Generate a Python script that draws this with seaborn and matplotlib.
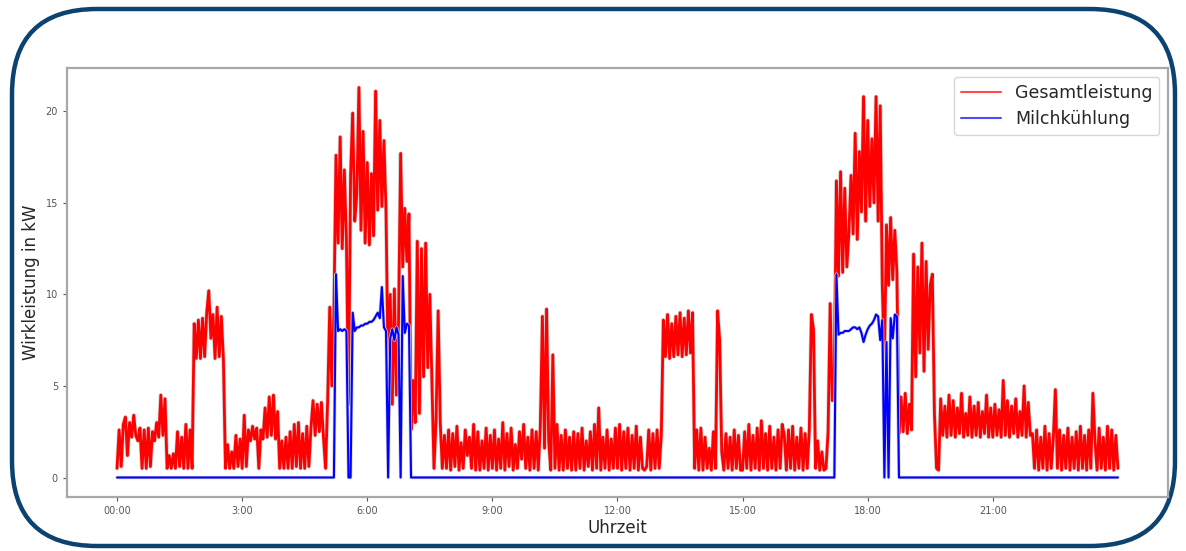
import matplotlib.pyplot as plt
import matplotlib.patheffects as pe
from matplotlib.patches import FancyBboxPatch
import seaborn as sns
import pandas as pd
import numpy as np

# Gesamtleistung in kW, 3-Minuten-Werte (20 Werte je Stunde)
h00 = [0.5, 2.6, 0.6, 2.9, 3.3, 1.2, 3.0, 2.2, 3.4, 2.3, 2.0, 2.7, 0.5, 2.6, 0.5, 2.7, 0.6, 2.5, 2.0, 3.0]
h01 = [2.2, 4.5, 2.3, 4.3, 0.5, 1.2, 0.5, 1.3, 0.5, 2.5, 0.6, 2.2, 0.5, 2.9, 0.5, 2.6, 0.5, 8.4, 6.5, 8.6]
h02 = [6.5, 8.7, 6.6, 9.0, 10.2, 7.6, 8.9, 6.5, 9.3, 6.6, 8.8, 6.5, 0.5, 1.8, 0.5, 1.4, 0.5, 2.3, 0.6, 2.1]
h03 = [0.5, 3.4, 0.6, 2.6, 2.0, 2.8, 2.1, 2.7, 0.5, 2.6, 2.1, 3.8, 2.2, 4.4, 2.3, 4.5, 2.1, 3.6, 0.5, 2.0]
h04 = [0.5, 2.2, 0.5, 2.5, 0.5, 2.9, 0.6, 3.0, 0.5, 2.4, 0.5, 2.8, 0.6, 2.7, 4.2, 2.3, 4.0, 2.5, 4.1, 2.2]
h05 = [0.5, 4.2, 9.3, 5.0, 9.0, 17.6, 12.8, 18.6, 12.5, 16.8, 13.0, 4.0, 16.5, 19.9, 14.0, 15.5, 21.3, 13.5, 18.9, 12.8]
h06 = [17.2, 12.7, 16.6, 13.2, 21.1, 14.6, 19.5, 14.8, 18.4, 14.5, 5.8, 10.0, 4.0, 10.3, 4.5, 8.5, 17.7, 11.5, 14.7, 11.8]
h07 = [14.4, 2.6, 5.3, 3.0, 12.9, 3.5, 12.5, 5.5, 12.8, 6.0, 10.0, 5.2, 0.5, 3.2, 9.1, 3.0, 0.5, 2.3, 0.5, 2.6]
h08 = [0.4, 2.4, 0.6, 2.8, 0.4, 1.9, 0.5, 2.6, 1.2, 2.2, 0.5, 2.9, 0.4, 2.5, 0.4, 2.0, 0.5, 2.7, 0.4, 2.3]
h09 = [0.5, 2.6, 0.4, 2.1, 0.5, 3.0, 0.4, 2.4, 0.6, 2.7, 0.4, 1.8, 0.5, 2.5, 1.0, 2.9, 0.5, 2.2, 0.4, 2.6]
h10 = [0.5, 2.5, 0.4, 2.8, 8.8, 1.6, 9.2, 2.0, 0.4, 6.7, 0.5, 2.9, 0.4, 2.3, 0.4, 2.6, 0.5, 2.2, 0.4, 2.5]
h11 = [0.4, 2.4, 0.5, 2.7, 0.4, 2.0, 0.6, 2.5, 0.4, 2.9, 0.5, 3.8, 0.4, 2.2, 0.5, 2.6, 0.4, 2.1, 0.5, 2.7]
h12 = [0.5, 2.9, 0.4, 2.5, 0.5, 2.7, 0.4, 2.3, 0.5, 2.8, 0.4, 2.2, 0.5, 0.4, 0.6, 2.6, 0.4, 2.4, 0.5, 2.6]
h13 = [0.5, 2.3, 8.6, 6.6, 8.9, 6.5, 8.4, 6.6, 8.8, 6.7, 9.0, 6.6, 8.7, 6.7, 9.1, 6.8, 9.0, 0.5, 2.6, 0.4]
h14 = [2.7, 0.4, 2.2, 0.5, 1.6, 0.4, 2.5, 0.5, 9.1, 7.5, 1.4, 0.4, 2.4, 0.5, 2.2, 0.4, 2.6, 0.5, 2.3, 0.4]
h15 = [0.4, 2.5, 0.5, 2.9, 0.4, 2.3, 0.5, 2.7, 0.4, 3.1, 0.5, 2.4, 0.4, 2.8, 0.5, 2.2, 0.4, 2.6, 0.5, 2.9]
h16 = [2.3, 0.4, 2.6, 0.5, 2.8, 0.4, 2.2, 0.5, 2.7, 0.4, 2.4, 0.5, 2.6, 8.9, 8.1, 0.5, 2.0, 0.4, 1.4, 0.4]
h17 = [0.5, 2.5, 9.5, 4.2, 5.6, 16.2, 11.0, 16.7, 11.2, 15.8, 11.5, 13.4, 16.5, 13.3, 18.8, 13.0, 17.8, 14.5, 20.8, 14.0]
h18 = [19.5, 14.8, 18.5, 15.0, 20.8, 14.0, 20.3, 10.5, 6.2, 13.8, 10.5, 14.2, 10.8, 13.5, 11.2, 2.4, 4.4, 2.5, 4.6, 2.4]
h19 = [4.0, 2.6, 12.2, 5.5, 11.5, 6.8, 12.8, 5.8, 11.8, 7.0, 10.5, 11.1, 3.5, 0.5, 0.4, 4.3, 2.3, 3.9, 2.2, 4.5]
h20 = [2.3, 4.2, 2.2, 3.8, 2.4, 4.6, 2.2, 3.5, 2.3, 4.4, 2.2, 3.9, 2.3, 4.1, 2.2, 3.6, 2.4, 4.5, 2.2, 3.8]
h21 = [2.2, 4.0, 2.3, 3.7, 2.2, 5.3, 2.3, 4.2, 2.2, 3.9, 2.4, 4.3, 2.2, 3.6, 2.3, 5.0, 2.2, 4.1, 2.3, 2.4]
h22 = [0.5, 2.6, 0.4, 2.2, 0.5, 2.8, 0.4, 2.4, 0.5, 2.1, 4.8, 0.5, 2.6, 0.4, 2.3, 0.5, 2.7, 0.4, 2.2, 0.5]
h23 = [2.5, 0.4, 2.8, 0.5, 2.3, 0.4, 2.6, 0.5, 4.6, 2.0, 0.4, 2.7, 0.5, 2.2, 0.4, 2.8, 0.5, 2.6, 0.4, 2.3, 0.5]

# Milchkuehlung in kW: zwei Kuehlphasen (ab 05:15 und ab 17:15), sonst 0
kuehl_morgen = [11.1, 8.0, 8.1, 8.0, 8.1, 8.0, 0.0, 0.0, 9.0, 8.0, 8.2, 8.2, 8.3, 8.3, 8.4, 8.4, 8.5, 8.5,
                8.6, 8.8, 9.0, 8.7, 10.4, 8.2, 8.0, 0.0, 7.6, 8.1, 7.5, 8.2, 7.8, 0.0, 11.0, 7.9, 8.4, 8.3]
kuehl_abend = [11.1, 7.8, 7.9, 7.9, 8.0, 8.0, 8.0, 8.1, 8.2, 8.2, 8.1, 8.2, 7.9, 7.4, 7.8, 8.1, 8.3, 8.4,
               8.6, 8.9, 8.8, 7.5, 8.6, 0.0, 7.4, 0.0, 8.7, 7.6, 8.9, 8.8]
aus = 0.0

tick_stunden = [0, 3, 6, 9, 12, 15, 18, 21]
tick_labels = ['00:00', '3:00', '6:00', '9:00', '12:00', '15:00', '18:00', '21:00']

gesamt = (h00 + h01 + h02 + h03 + h04 + h05 + h06 + h07 + h08 + h09 + h10 + h11
          + h12 + h13 + h14 + h15 + h16 + h17 + h18 + h19 + h20 + h21 + h22 + h23)
milch = ([aus] * 105 + kuehl_morgen + [aus] * 204 + kuehl_abend
         + [aus] * (len(gesamt) - 105 - len(kuehl_morgen) - 204 - len(kuehl_abend)))

df = pd.DataFrame({'Uhrzeit': np.arange(len(gesamt)) / 20.0,
                   'Gesamtleistung': gesamt,
                   'Milchkühlung': milch})

sns.set_style('white')
plt.rcParams['font.family'] = ['DejaVu Sans']

fig = plt.figure(figsize=(11.86, 5.51), dpi=100)

# abgerundeter Rahmen um die ganze Grafik
bg = fig.add_axes([0, 0, 1, 1], zorder=0)
bg.set_xlim(0, 1186)
bg.set_ylim(551, 0)
bg.axis('off')
bg.add_patch(FancyBboxPatch((12, 9), 1163, 537, boxstyle='round,pad=0,rounding_size=85',
                            fc='white', ec='#0b4270', lw=3.2))

ax = fig.add_axes([0.0565, 0.098, 0.9283, 0.7786], zorder=1)
sns.lineplot(data=df, x='Uhrzeit', y='Gesamtleistung', ax=ax, color='red', lw=2.0,
             label='Gesamtleistung', estimator=None)
sns.lineplot(data=df, x='Uhrzeit', y='Milchkühlung', ax=ax, color='blue', lw=1.5,
             label='Milchkühlung', estimator=None)
for line in ax.lines:
    line.set_path_effects([pe.Stroke(linewidth=line.get_linewidth() + 1.0, foreground='#d2d2d2'),
                           pe.Normal()])

ax.set_xticks(tick_stunden)
ax.set_xticklabels(tick_labels)
ax.set_yticks([0, 5, 10, 15, 20])
ax.tick_params(labelsize=7, colors='#555555', length=3, width=0.8, bottom=True, left=True)
for s in ax.spines.values():
    s.set_color('#a8a8a8')
    s.set_linewidth(1.6)
ax.set_xlabel('Uhrzeit', fontsize=12, labelpad=2)
ax.set_ylabel('Wirkleistung in kW', fontsize=12)

leg = ax.legend(loc='upper right', fontsize=12.5, handlelength=2.3)
for h in leg.get_lines():
    h.set_path_effects([])
    h.set_linewidth(1.5)
    h.set_alpha(0.7)

fig.savefig('out.png', dpi=100)
